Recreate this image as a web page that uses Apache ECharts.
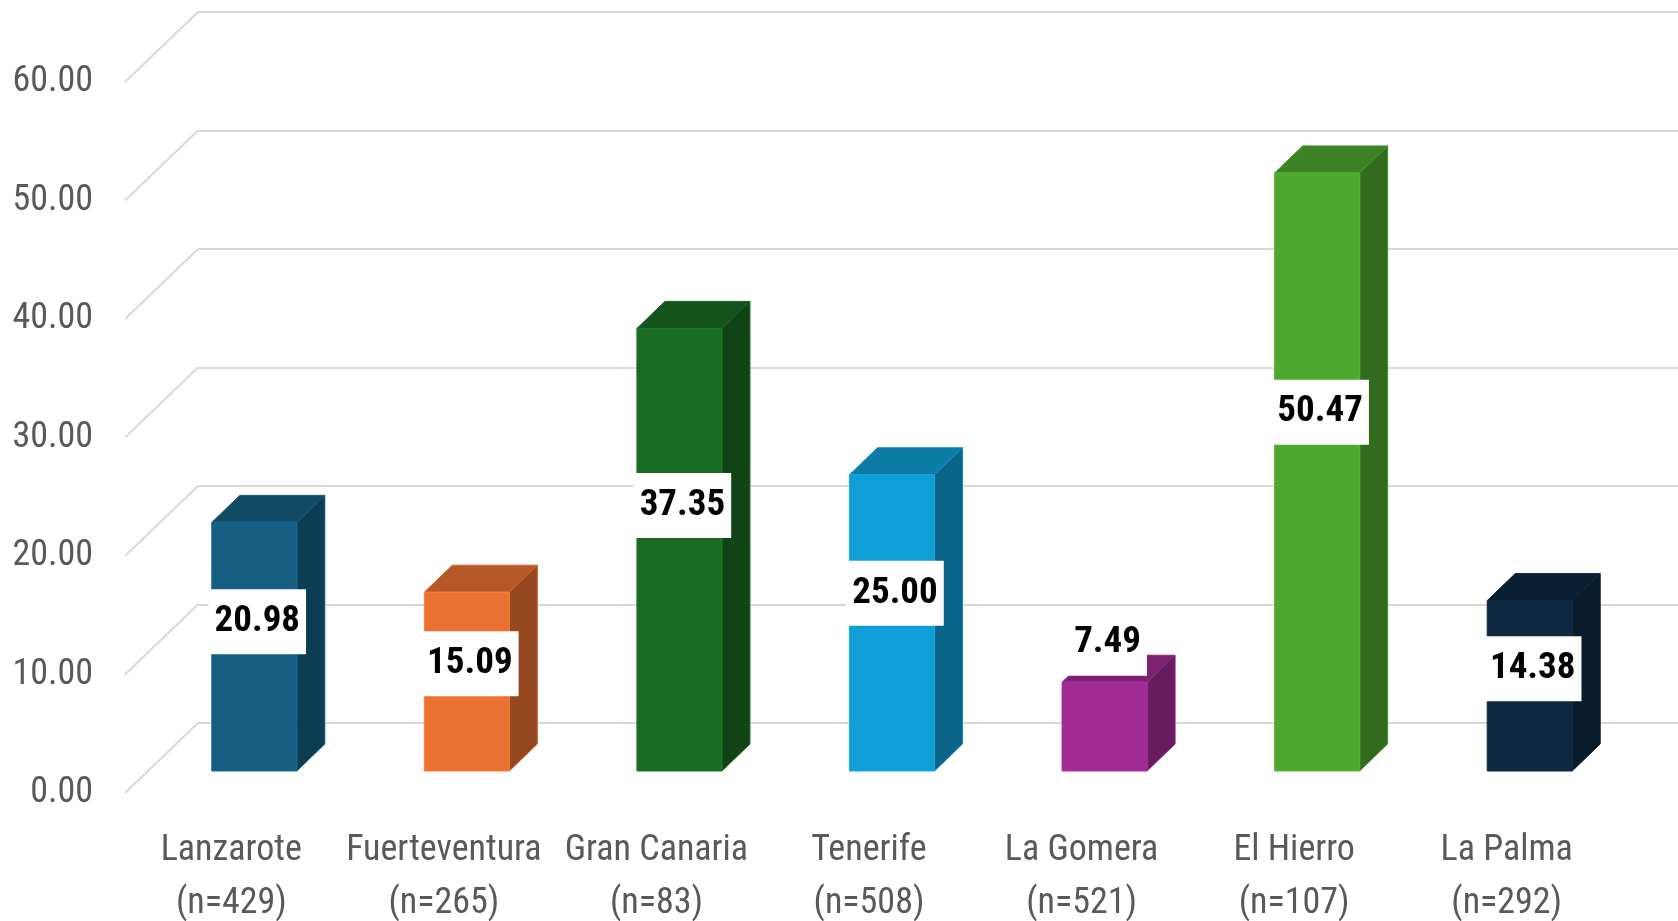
<!DOCTYPE html>
<html>
<head>
<meta charset="utf-8">
<script src="https://cdn.jsdelivr.net/npm/echarts@6/dist/echarts.min.js"></script>
<style>
  html, body { margin: 0; padding: 0; background: #fff; }
  #chart { width: 1678px; height: 921px; }
</style>
</head>
<body>
<div id="chart"></div>
<script>
// data
const categories = [
  "Lanzarote\n(n=429)",
  "Fuerteventura\n(n=265)",
  "Gran Canaria\n(n=83)",
  "Tenerife\n(n=508)",
  "La Gomera\n(n=521)",
  "El Hierro\n(n=107)",
  "La Palma\n(n=292)",
];
const values = [20.98, 15.09, 37.35, 25.0, 7.49, 50.47, 14.38];
const yTicks = [0, 10, 20, 30, 40, 50, 60];
const barColors = ["#156082", "#E97132", "#196B24", "#0F9ED5", "#A02B93", "#4EA72E", "#0E2841"];

const FONT = '"Roboto Condensed", "Liberation Sans", sans-serif';
const GRID_COLOR = "#d9d9d9";
// 3D offsets (px)
const WALL_DX = 73, WALL_DY = 70;   // floor depth
const PLANE_DX = 23, PLANE_DY = 22; // bar front plane
const BAR_DX = 28, BAR_DY = 27;     // bar depth

function shade(hex, k) {
  const n = parseInt(hex.slice(1), 16);
  const r = Math.min(255, Math.round(((n >> 16) & 255) * k));
  const g = Math.min(255, Math.round(((n >> 8) & 255) * k));
  const b = Math.min(255, Math.round((n & 255) * k));
  return "rgb(" + r + "," + g + "," + b + ")";
}

const myChart = echarts.init(document.getElementById("chart"));

function renderGridDiag(params, api) {
  const y = api.coord([0, api.value(1)])[1];
  const x = params.coordSys.x;
  return {
    type: "line",
    shape: { x1: x, y1: y, x2: x + WALL_DX, y2: y - WALL_DY },
    style: { stroke: GRID_COLOR, lineWidth: 2 },
  };
}

function renderBar(params, api) {
  const i = api.value(0);
  const v = api.value(1);
  const base = api.coord([i, 0]);
  const top = api.coord([i, v]);
  const w = api.size([1, 0])[0] * 0.4;
  const cx = base[0] + PLANE_DX;
  const yb = base[1] - PLANE_DY;
  const yt = top[1] - PLANE_DY;
  const x1 = cx - w / 2, x2 = cx + w / 2;
  const c = barColors[i];
  let ly;
  if (v < 10) ly = yt - 39;
  else ly = api.coord([i, v * 0.6])[1] - PLANE_DY;
  return {
    type: "group",
    children: [
      {
        type: "polygon",
        shape: { points: [[x1, yt], [x1 + BAR_DX, yt - BAR_DY], [x2 + BAR_DX, yt - BAR_DY], [x2, yt]] },
        style: { fill: shade(c, 0.78), stroke: shade(c, 0.9), lineWidth: 1 },
      },
      {
        type: "polygon",
        shape: { points: [[x2, yt], [x2 + BAR_DX, yt - BAR_DY], [x2 + BAR_DX, yb - BAR_DY], [x2, yb]] },
        style: { fill: shade(c, 0.64), stroke: shade(c, 0.9), lineWidth: 1 },
      },
      {
        type: "rect",
        shape: { x: x1, y: yt, width: w, height: yb - yt },
        style: { fill: c, stroke: shade(c, 1.1), lineWidth: 1 },
      },
      {
        type: "text",
        z2: 10,
        style: {
          x: cx + 3,
          y: ly,
          text: v.toFixed(2),
          align: "center",
          verticalAlign: "middle",
          fill: "#000",
          font: "bold 37px " + FONT,
          backgroundColor: "#fff",
          padding: [14, 6],
        },
      },
    ],
  };
}

const option = {
  animation: false,
  backgroundColor: "#fff",
  grid: [
    { left: 125, right: 65, top: 82, bottom: 128, outerBoundsMode: "none" },
    { left: 125 + WALL_DX, right: -20, top: 82 - WALL_DY, bottom: 128 + WALL_DY, outerBoundsMode: "none" },
  ],
  xAxis: [
    {
      type: "category",
      gridIndex: 0,
      data: categories,
      axisLine: { show: false },
      axisTick: { show: false },
      axisLabel: {
        interval: 0,
        margin: 31,
        color: "#595959",
        fontFamily: FONT,
        fontSize: 36,
        lineHeight: 53,
      },
    },
    { type: "value", gridIndex: 1, min: 0, max: 1, show: false },
  ],
  yAxis: [
    {
      type: "value",
      gridIndex: 0,
      min: 0,
      max: 60,
      interval: 10,
      axisLine: { show: false },
      axisTick: { show: false },
      splitLine: { show: false },
      axisLabel: {
        margin: 32,
        color: "#595959",
        fontFamily: FONT,
        fontSize: 36,
        padding: [6, 0, 0, 0],
        formatter: (v) => v.toFixed(2),
      },
    },
    {
      type: "value",
      gridIndex: 1,
      min: 0,
      max: 60,
      interval: 10,
      axisLine: { show: false },
      axisTick: { show: false },
      axisLabel: { show: false },
      splitLine: { lineStyle: { color: GRID_COLOR, width: 2 } },
    },
  ],
  series: [
    { type: "line", xAxisIndex: 1, yAxisIndex: 1, data: [] },
    {
      type: "custom",
      xAxisIndex: 0,
      yAxisIndex: 0,
      renderItem: renderGridDiag,
      data: yTicks.map((t) => [0, t]),
      silent: true,
      z: 1,
    },
    {
      type: "custom",
      xAxisIndex: 0,
      yAxisIndex: 0,
      renderItem: renderBar,
      data: values.map((v, i) => [i, v]),
      z: 5,
    },
  ],
};

myChart.setOption(option);
</script>
</body>
</html>
